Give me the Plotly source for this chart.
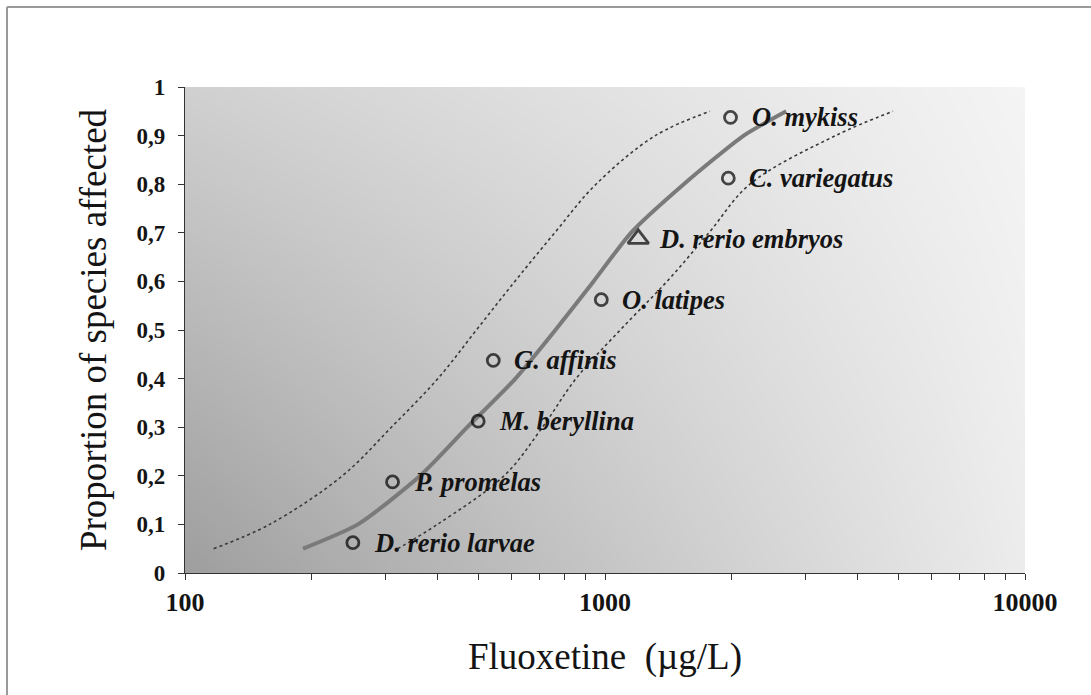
import numpy as np
import plotly.graph_objects as go

# Species sensitivity data: fluoxetine toxicity (µg/L) vs. cumulative proportion
species = ["D. rerio larvae", "P. promelas", "M. beryllina", "G. affinis",
           "O. latipes", "D. rerio embryos", "C. variegatus", "O. mykiss"]
conc = [251, 312, 499, 542, 980, 1200, 1966, 1990]
proportion = [0.0625, 0.1875, 0.3125, 0.4375, 0.5625, 0.6875, 0.8125, 0.9375]
marker_kind = ["circle-open"] * 5 + ["triangle-up-open"] + ["circle-open"] * 2

# Fitted distribution and its confidence limits
fit_p = [0.05, 0.1, 0.2, 0.3, 0.4, 0.5, 0.6, 0.7, 0.8, 0.9, 0.95]
fit_x = [191, 258, 363, 470, 612, 762, 939, 1153, 1540, 2140, 2700]
lower_x = [117, 159, 237, 310, 400, 494, 610, 759, 952, 1318, 1778]
upper_x = [321, 399, 575, 710, 853, 1087, 1405, 1768, 2213, 3540, 4850]

y_ticks = [0, 0.1, 0.2, 0.3, 0.4, 0.5, 0.6, 0.7, 0.8, 0.9, 1]
y_ticktext = ["0", "0,1", "0,2", "0,3", "0,4", "0,5", "0,6", "0,7", "0,8", "0,9", "1"]
x_ticks = [100, 1000, 10000]
x_minor = [v * m for m in (100, 1000) for v in range(2, 10)]

SERIF = "Liberation Serif"
INK = "#141414"

fig = go.Figure()

# Gray gradient backdrop (dark lower-left to light right) on hidden linear axes
fig.add_trace(go.Heatmap(
    x=[0, 1], y=[0, 1],
    z=[[158, 236], [208, 244]],
    zmin=0, zmax=255, zsmooth="best",
    colorscale=[[0, "rgb(0,0,0)"], [1, "rgb(255,255,255)"]],
    showscale=False, hoverinfo="skip",
    xaxis="x", yaxis="y",
))

for xs in (lower_x, upper_x):
    fig.add_trace(go.Scatter(
        x=xs, y=fit_p, mode="lines",
        line=dict(color="#3a3a3a", width=1.6, dash="dot",
                  shape="spline", smoothing=1.0),
        xaxis="x2", yaxis="y2", showlegend=False,
    ))
fig.add_trace(go.Scatter(
    x=fit_x, y=fit_p, mode="lines",
    line=dict(color="#7a7a7a", width=4, shape="spline", smoothing=0.6),
    xaxis="x2", yaxis="y2", showlegend=False,
))
fig.add_trace(go.Scatter(
    x=conc, y=proportion, mode="markers",
    marker=dict(symbol=marker_kind,
                size=[12] * 5 + [18] + [12] * 2,
                color="#000000", line=dict(color="#000000", width=2.8)),
    xaxis="x2", yaxis="y2", showlegend=False,
))

for name, xv, yv in zip(species, conc, proportion):
    fig.add_annotation(
        x=np.log10(xv), y=yv, xref="x2", yref="y2",
        text=name, showarrow=False, xanchor="left", yanchor="middle",
        xshift=19,
        font=dict(family=SERIF, size=26.5, color=INK, weight="bold", style="italic"),
    )

# Outer frame (top and left edges)
frame = dict(color="#9a9a9a", width=2)
fig.add_shape(type="line", xref="paper", yref="paper",
              x0=-0.2119, x1=-0.2119, y0=-0.3, y1=1.1646, line=frame)
fig.add_shape(type="line", xref="paper", yref="paper",
              x0=-0.2119, x1=1.1, y0=1.1646, y1=1.1646, line=frame)

fig.update_layout(
    width=1091, height=695,
    margin=dict(l=185, r=66, t=87, b=122),
    paper_bgcolor="white", plot_bgcolor="white",
    showlegend=False,
    xaxis=dict(range=[0, 1], visible=False, fixedrange=True),
    yaxis=dict(range=[0, 1], visible=False, fixedrange=True),
    xaxis2=dict(
        type="log", range=[2, 4], overlaying="x", anchor="y2",
        tickvals=x_ticks, ticktext=[str(v) for v in x_ticks],
        ticks="outside", ticklen=6, tickwidth=1, tickcolor="#333",
        showline=True, linecolor="#333", linewidth=1.2,
        showgrid=False, zeroline=False,
        minor=dict(tickvals=x_minor, ticks="outside", ticklen=6,
                   tickcolor="#333", tickwidth=1, showgrid=False),
        tickfont=dict(family=SERIF, size=26, color=INK, weight="bold"),
        title=dict(text="Fluoxetine  (µg/L)", standoff=26,
                   font=dict(family=SERIF, size=37, color=INK)),
    ),
    yaxis2=dict(
        range=[0, 1], overlaying="y", anchor="x2",
        tickvals=y_ticks, ticktext=y_ticktext,
        ticks="outside", ticklen=6, tickwidth=1, tickcolor="#333",
        showline=True, linecolor="#333", linewidth=1.2,
        showgrid=False, zeroline=False,
        tickfont=dict(family=SERIF, size=23, color=INK, weight="bold"),
        ticklabelstandoff=8,
        title=dict(text="Proportion of species affected", standoff=18,
                   font=dict(family=SERIF, size=37, color=INK)),
    ),
)

fig.write_html("out.html")
